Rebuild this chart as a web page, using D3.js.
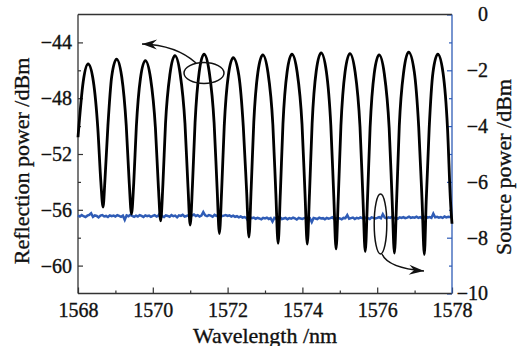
<!DOCTYPE html>
<html lang="en">
<head>
<meta charset="UTF-8">
<title>Reflection and source power</title>
<script src="https://d3js.org/d3.v7.min.js"></script>
<style>
  body { margin: 0; background: #fff; }
</style>
</head>
<body>
<div id="chart"></div>
<script>
// reflection spectrum (black)
var wavelength = [
  1568.00, 1568.14, 1568.27, 1568.41, 1568.53, 1568.61, 1568.67, 1568.72, 1568.80, 1568.90,
  1569.03, 1569.17, 1569.29, 1569.37, 1569.43, 1569.49, 1569.56, 1569.67, 1569.80, 1569.94,
  1570.07, 1570.15, 1570.21, 1570.27, 1570.34, 1570.46, 1570.59, 1570.73, 1570.86, 1570.94,
  1571.00, 1571.06, 1571.13, 1571.24, 1571.37, 1571.51, 1571.64, 1571.72, 1571.78, 1571.84,
  1571.91, 1572.02, 1572.15, 1572.30, 1572.42, 1572.51, 1572.57, 1572.63, 1572.70, 1572.81,
  1572.94, 1573.08, 1573.21, 1573.29, 1573.35, 1573.41, 1573.48, 1573.59, 1573.72, 1573.86,
  1573.99, 1574.07, 1574.13, 1574.19, 1574.26, 1574.37, 1574.50, 1574.64, 1574.76, 1574.84,
  1574.90, 1574.96, 1575.03, 1575.14, 1575.27, 1575.41, 1575.54, 1575.62, 1575.68, 1575.74,
  1575.81, 1575.92, 1576.05, 1576.19, 1576.32, 1576.40, 1576.46, 1576.52, 1576.59, 1576.71,
  1576.84, 1576.99, 1577.11, 1577.20, 1577.26, 1577.31, 1577.39, 1577.49, 1577.62, 1577.76,
  1577.88, 1577.96, 1578.00
];
var reflection = [
  -50.8, -46.8, -45.55, -46.78, -50.16, -53.96, -55.8, -53.89, -49.97, -46.47,
  -45.2, -46.48, -49.97, -54.08, -56.3, -54.1, -50.03, -46.57, -45.3, -46.57,
  -50.13, -54.39, -56.8, -54.19, -49.81, -46.25, -44.95, -46.23, -49.81, -54.31,
  -57.1, -54.28, -49.75, -46.14, -44.85, -46.14, -49.8, -54.49, -57.7, -54.68,
  -50.01, -46.36, -45.1, -46.36, -50.05, -54.74, -57.95, -54.49, -49.73, -46.14,
  -44.9, -46.18, -49.9, -54.82, -58.4, -54.81, -49.86, -46.14, -44.85, -46.14,
  -49.88, -54.85, -58.45, -54.82, -49.82, -46.05, -44.75, -46.08, -49.95, -55.08,
  -58.8, -55.09, -49.98, -46.13, -44.8, -46.13, -50.05, -55.24, -59.0, -55.26,
  -50.12, -46.24, -44.9, -46.25, -50.15, -55.34, -59.1, -55.28, -50.03, -46.07,
  -44.7, -46.08, -50.07, -55.36, -59.2, -55.4, -50.16, -46.18, -44.85, -46.18,
  -50.16, -55.4, -57.0
];

// source spectrum (blue), one sample every 0.05 nm from 1568 nm
var sourceStart = 1568, sourceStep = 0.05;
var sourcePower = [
  -7.20,-7.24,-7.19,-7.23,-7.26,-7.21,-7.18,-7.12,-7.25,-7.20,-7.22,-7.27,-7.21,-7.19,-7.24,-7.22,-7.26,-7.20,-7.23,-7.21,
  -7.24,-7.19,-7.22,-7.25,-7.21,-7.36,-7.20,-7.23,-7.18,-7.22,-7.25,-7.21,-7.24,-7.19,-7.22,-7.26,-7.20,-7.23,-7.21,-7.25,
  -7.22,-7.19,-7.24,-7.21,-7.10,-7.23,-7.26,-7.20,-7.22,-7.25,-7.19,-7.23,-7.21,-7.27,-7.20,-7.22,-7.18,-7.24,-7.22,-7.20,
  -7.23,-7.20,-7.17,-7.22,-7.19,-7.24,-7.21,-7.08,-7.20,-7.23,-7.19,-7.21,-7.25,-7.18,-7.22,-7.20,-7.17,-7.23,-7.21,-7.19,
  -7.22,-7.20,-7.24,-7.21,-7.25,-7.23,-7.27,-7.24,-7.28,-7.26,-7.29,-7.40,-7.27,-7.30,-7.28,-7.32,-7.29,-7.31,-7.34,-7.29,
  -7.31,-7.28,-7.33,-7.30,-7.42,-7.29,-7.32,-7.30,-7.27,-7.33,-7.31,-7.29,-7.34,-7.30,-7.32,-7.28,-7.31,-7.35,-7.29,-7.31,
  -7.33,-7.30,-7.28,-7.32,-7.30,-7.44,-7.29,-7.31,-7.33,-7.28,-7.31,-7.30,-7.34,-7.29,-7.32,-7.30,-7.27,-7.33,-7.31,-7.29,
  -7.31,-7.34,-7.29,-7.30,-7.19,-7.32,-7.30,-7.28,-7.33,-7.29,-7.31,-7.27,-7.30,-7.32,-7.28,-7.30,-7.33,-7.27,-7.29,-7.31,
  -7.29,-7.26,-7.30,-7.16,-7.28,-7.31,-7.27,-7.29,-7.25,-7.30,-7.28,-7.32,-7.27,-7.29,-7.26,-7.30,-7.28,-7.25,-7.29,-7.27,
  -7.28,-7.25,-7.29,-7.26,-7.30,-7.27,-7.24,-7.28,-7.26,-7.29,-7.14,-7.27,-7.25,-7.28,-7.26,-7.29,-7.24,-7.27,-7.25,-7.26,
  -7.26
];

var xTicks = [1568, 1570, 1572, 1574, 1576, 1578];
var xMinor = [1569, 1571, 1573, 1575, 1577];
var leftTicks = [-60, -56, -52, -48, -44];
var leftMinor = [-58, -54, -50, -46];
var rightTicks = [0, -2, -4, -6, -8, -10];
var rightMinor = [-1, -3, -5, -7, -9];

var w = 527, h = 346;
var plotL = 78, plotR = 452, plotT = 14.5, plotB = 293.5;
var blue = "#2f5cb6";
var serif = "'Liberation Serif', 'DejaVu Serif', serif";

var svg = d3.select("#chart").append("svg")
    .attr("width", w)
    .attr("height", h)
    .style("font-family", serif);

var defs = svg.append("defs");
defs.append("marker")
    .attr("id", "head")
    .attr("viewBox", "-16 -6 18 12")
    .attr("refX", 0).attr("refY", 0)
    .attr("markerWidth", 18).attr("markerHeight", 12)
    .attr("markerUnits", "userSpaceOnUse")
    .attr("orient", "auto")
  .append("path")
    .attr("d", "M0,0 L-15,-5 L-10,0 L-15,5 Z")
    .attr("fill", "#111");

var x = d3.scaleLinear().domain([1568, 1578]).range([plotL, plotR]);
var yL = d3.scaleLinear().domain([-62, -42]).range([plotB, plotT]);
var yR = d3.scaleLinear().domain([-10, 0]).range([plotB, plotT]);

// axes, ticks pointing inward
svg.append("g")
    .attr("transform", "translate(0," + plotB + ")")
    .call(d3.axisBottom(x).tickValues(xTicks).tickFormat(d3.format("d")).tickSize(-6).tickPadding(9));
svg.append("g")
    .attr("transform", "translate(0," + plotB + ")")
    .call(d3.axisBottom(x).tickValues(xMinor).tickFormat("").tickSize(-3));

svg.append("g")
    .attr("transform", "translate(" + plotL + ",0)")
    .call(d3.axisLeft(yL).tickValues(leftTicks).tickSize(-5).tickPadding(6));
svg.append("g")
    .attr("transform", "translate(" + plotL + ",0)")
    .call(d3.axisLeft(yL).tickValues(leftMinor).tickFormat("").tickSize(-3));

var rAxis = svg.append("g")
    .attr("transform", "translate(" + plotR + ",0)")
    .call(d3.axisRight(yR).tickValues(rightTicks).tickSize(-5));
var rMinor = svg.append("g")
    .attr("transform", "translate(" + plotR + ",0)")
    .call(d3.axisRight(yR).tickValues(rightMinor).tickFormat("").tickSize(-3));

svg.selectAll(".domain").remove();
svg.selectAll("g").attr("font-family", null).attr("font-size", null);
svg.selectAll(".tick line").attr("stroke", "#333").attr("stroke-width", 1.2);
rAxis.selectAll(".tick line").attr("stroke", blue);
rMinor.selectAll(".tick line").attr("stroke", blue);
svg.selectAll(".tick text")
    .style("font-family", serif)
    .style("font-size", "20px")
    .attr("fill", "#111")
    .attr("stroke", "#111").attr("stroke-width", 0.35);
rAxis.selectAll(".tick text").attr("text-anchor", "end").attr("x", 36);

// frame
svg.append("line").attr("x1", plotL).attr("x2", plotR).attr("y1", plotT).attr("y2", plotT)
    .attr("stroke", "#333").attr("stroke-width", 1.3);
svg.append("line").attr("x1", plotL).attr("x2", plotR).attr("y1", plotB).attr("y2", plotB)
    .attr("stroke", "#333").attr("stroke-width", 1.3);
svg.append("line").attr("x1", plotL).attr("x2", plotL).attr("y1", plotT).attr("y2", plotB)
    .attr("stroke", "#333").attr("stroke-width", 1.3);
svg.append("line").attr("x1", plotR).attr("x2", plotR).attr("y1", plotT).attr("y2", plotB)
    .attr("stroke", blue).attr("stroke-width", 1.3);

// lines
var reflLine = d3.line()
    .x(function(d, i) { return x(wavelength[i]); })
    .y(function(d) { return yL(d); })
    .curve(d3.curveMonotoneX);
var srcLine = d3.line()
    .x(function(d, i) { return x(sourceStart + i * sourceStep); })
    .y(function(d) { return yR(d); });

svg.append("path")
    .attr("d", srcLine(sourcePower))
    .attr("fill", "none")
    .attr("stroke", blue)
    .attr("stroke-width", 2.5);

svg.append("path")
    .attr("d", reflLine(reflection))
    .attr("fill", "none")
    .attr("stroke", "#000")
    .attr("stroke-width", 2.8)
    .attr("stroke-linejoin", "round");

// annotations: ellipses with arrows to the axes
svg.append("ellipse")
    .attr("cx", 204).attr("cy", 73).attr("rx", 20).attr("ry", 10.5)
    .attr("fill", "none").attr("stroke", "#111").attr("stroke-width", 1.5);
svg.append("path")
    .attr("d", "M196,63 Q176,45 142,44")
    .attr("fill", "none").attr("stroke", "#111").attr("stroke-width", 1.5)
    .attr("marker-end", "url(#head)");

svg.append("ellipse")
    .attr("cx", 380.5).attr("cy", 224).attr("rx", 6.3).attr("ry", 30)
    .attr("fill", "none").attr("stroke", "#111").attr("stroke-width", 1.5);
svg.append("path")
    .attr("d", "M382,254 Q388,268 424,271")
    .attr("fill", "none").attr("stroke", "#111").attr("stroke-width", 1.5)
    .attr("marker-end", "url(#head)");

// axis titles
var titles = [
    { t: "Wavelength /nm", tr: "translate(" + ((plotL + plotR) / 2) + ",343)" },
    { t: "Reflection power /dBm", tr: "translate(28.5," + ((plotT + plotB) / 2 + 7) + ") rotate(-90)" },
    { t: "Source power /dBm", tr: "translate(511," + ((plotT + plotB) / 2 + 13) + ") rotate(-90)" }
];
svg.selectAll("text.title")
    .data(titles)
    .enter()
    .append("text")
    .attr("class", "title")
    .attr("transform", function(d) { return d.tr; })
    .attr("text-anchor", "middle")
    .style("font-size", "22px")
    .attr("fill", "#111")
    .attr("stroke", "#111").attr("stroke-width", 0.35)
    .text(function(d) { return d.t; });
</script>
</body>
</html>
